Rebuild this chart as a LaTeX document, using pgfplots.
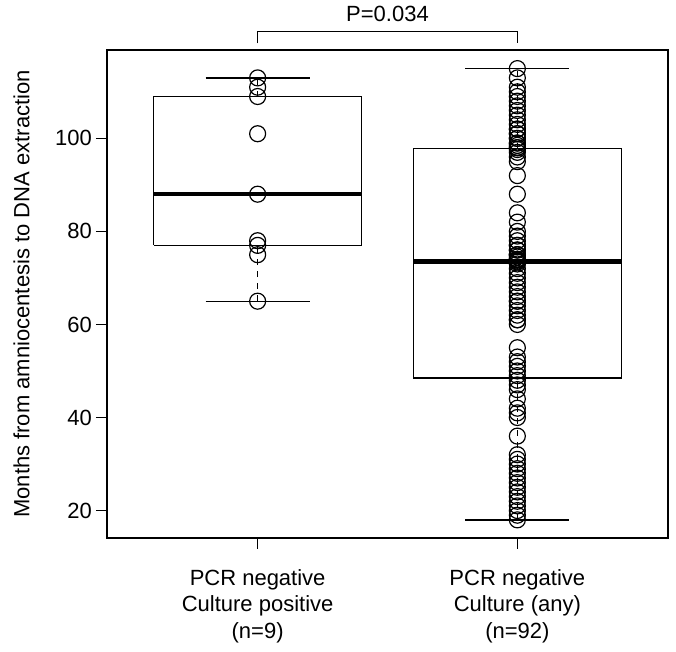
\documentclass[border=0pt]{standalone}
\usepackage{pgfplots}
\pgfplotsset{compat=1.18}
\usepackage{fontspec}
\setmainfont{Liberation Sans}
\begin{document}
\begin{tikzpicture}
\begin{axis}[
    width=280.5pt, height=244pt, scale only axis,
    xmin=0.42, xmax=2.58, ymin=14.1, ymax=119,
    xtick={1,2},
    xticklabels={{PCR negative\\Culture positive\\(n=9)},{PCR negative\\Culture (any)\\(n=92)}},
    xticklabel style={align=center, font=\fontsize{11}{13.3}\selectfont, yshift=-6.5pt},
    ytick={20,40,60,80,100},
    yticklabel style={font=\fontsize{11}{13}\selectfont, xshift=1.5pt},
    ylabel={Months from amniocentesis to DNA extraction},
    ylabel style={font=\fontsize{11}{13}\selectfont},
    ylabel shift=6pt,
    tick align=outside, major tick length=5.5pt,
    tick style={black, line width=0.6pt},
    xtick pos=bottom, ytick pos=left,
    axis line style={line width=0.6pt},
    /pgf/number format/assume math mode=true,
    clip=false,
]
\coordinate (O) at (rel axis cs:0,0);
% group 1 box
\addplot[black, line width=0.7pt] coordinates {(0.6,77) (1.4,77) (1.4,109) (0.6,109) (0.6,77)};
\addplot[black, line width=2.2pt] coordinates {(0.6,88) (1.4,88)};
\addplot[black, line width=0.7pt, dashed] coordinates {(1,65) (1,77)};
\addplot[black, line width=0.7pt, dashed] coordinates {(1,109) (1,113)};
\addplot[black, line width=0.7pt] coordinates {(0.8,65) (1.2,65)};
\addplot[black, line width=0.7pt] coordinates {(0.8,113) (1.2,113)};
% group 2 box
\addplot[black, line width=0.7pt] coordinates {(1.6,48.5) (2.4,48.5) (2.4,97.8) (1.6,97.8) (1.6,48.5)};
\addplot[black, line width=2.2pt] coordinates {(1.6,73.5) (2.4,73.5)};
\addplot[black, line width=0.7pt, dashed] coordinates {(2,18) (2,48.5)};
\addplot[black, line width=0.7pt, dashed] coordinates {(2,97.8) (2,115)};
\addplot[black, line width=0.7pt] coordinates {(1.8,18) (2.2,18)};
\addplot[black, line width=0.7pt] coordinates {(1.8,115) (2.2,115)};
% points group 1
\addplot[only marks, mark=o, mark size=4pt, black, mark options={line width=0.6pt}] coordinates {
(1,113) (1,111) (1,109) (1,101) (1,88) (1,78) (1,77) (1,75) (1,65)};
% points group 2
\addplot[only marks, mark=o, mark size=4pt, black, mark options={line width=0.6pt}] table[y index=0, x expr=2] {
115
113
111
110
109
108
107
106
105
104
103
102
102
101
101
100
100
99
99
98.5
98
98
97.6
97
96
95
92
88
84
82
80
79
78
77
77
76
76
75
75
75
74.5
74
74
74
73.8
73.6
73.4
73
72
71
70
69
68
67
66
65
65
64
63
62
61
61
60
55
53
52
51
50
49
48
47
46
44
42
41
40
36
32
31
30
29
28
27
26
25
24
23
22
21
20
19
18
};
% significance bracket
\draw[black, line width=0.6pt] (axis cs:1,120.4) -- (axis cs:1,123) -- (axis cs:2,123) -- (axis cs:2,120.4);
\node[font=\fontsize{11}{13}\selectfont] at (axis cs:1.5,126.7) {P=0.034};
\end{axis}
\pgfresetboundingbox
\path[use as bounding box] ([shift={(-53.5pt,-57pt)}]O) rectangle ([shift={(284.5pt,269pt)}]O);
\end{tikzpicture}
\end{document}
